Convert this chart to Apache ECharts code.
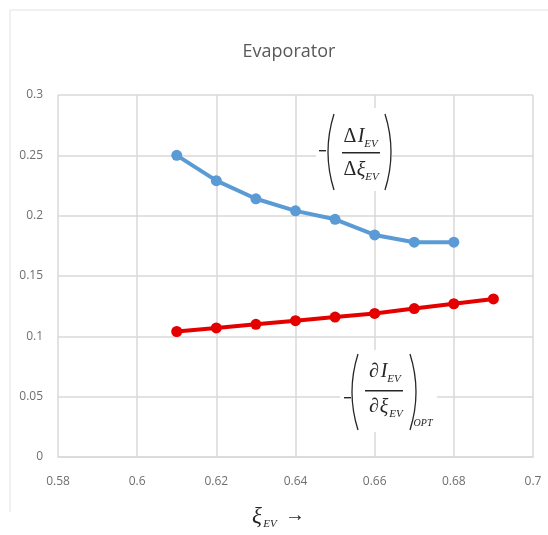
<!DOCTYPE html>
<html>
<head>
<meta charset="utf-8">
<script src="https://cdn.jsdelivr.net/npm/echarts@6/dist/echarts.min.js"></script>
<style>html,body{margin:0;padding:0;background:#fff;}#c{width:548px;height:535px;}</style>
</head>
<body>
<div id="c"></div>
<script>
const titleText = 'Evaporator';
const xTicks = [0.58, 0.6, 0.62, 0.64, 0.66, 0.68, 0.7];
const yTicks = [0, 0.05, 0.1, 0.15, 0.2, 0.25, 0.3];
const blueX = [0.61, 0.62, 0.63, 0.64, 0.65, 0.66, 0.67, 0.68];
const blueY = [0.250, 0.229, 0.214, 0.204, 0.197, 0.184, 0.178, 0.178];
const redX = [0.61, 0.62, 0.63, 0.64, 0.65, 0.66, 0.67, 0.68, 0.69];
const redY = [0.104, 0.107, 0.110, 0.113, 0.116, 0.119, 0.123, 0.127, 0.131];

const blueData = blueX.map((x, i) => [x, blueY[i]]);
const redData = redX.map((x, i) => [x, redY[i]]);

const serif = '"Liberation Serif", "DejaVu Serif", serif';
const gridColor = '#d9d9d9';
const ink = '#262626';

function paren(x, y1, y2, dir) {
  const my = (y1 + y2) / 2;
  const bulge = 6 * dir;
  return {
    type: 'bezierCurve', z: 101, silent: true,
    shape: { x1: x, y1: y1, x2: x, y2: y2, cpx1: x - bulge * 2, cpy1: my },
    style: { fill: null, stroke: ink, lineWidth: 1.3 }
  };
}
function txt(x, y, t, size, upright) {
  return {
    type: 'text', z: 101, silent: true, x: x, y: y,
    style: { text: t, font: (upright ? '' : 'italic ') + size + 'px ' + serif, fill: ink, align: 'center', verticalAlign: 'middle' }
  };
}
function bar(x, y, w) {
  return { type: 'rect', z: 101, silent: true, shape: { x: x, y: y, width: w, height: 1.4 }, style: { fill: ink } };
}

const graphics = [
  { type: 'line', shape: { x1: 10, y1: 10, x2: 548, y2: 10 }, style: { stroke: '#e3e3e3', lineWidth: 1 }, silent: true },
  { type: 'line', shape: { x1: 10, y1: 10, x2: 10, y2: 512 }, style: { stroke: '#e3e3e3', lineWidth: 1 }, silent: true },
  // top formula
  { type: 'rect', z: 100, silent: true, shape: { x: 316, y: 108, width: 76, height: 83 }, style: { fill: '#fff' } },
  bar(319, 150, 7),
  paren(334, 114, 190, 1),
  paren(385, 114, 190, -1),
  txt(350, 137, 'Δ', 20, true),
  txt(361, 137, 'I', 20),
  txt(371, 144, 'EV', 11),
  bar(342, 152, 38),
  txt(350, 170, 'Δ', 20, true),
  txt(361, 171, 'ξ', 20),
  txt(372, 177, 'EV', 11),
  // bottom formula
  { type: 'rect', z: 100, silent: true, shape: { x: 340, y: 350, width: 97, height: 82 }, style: { fill: '#fff' } },
  bar(344, 397, 7),
  paren(358, 354, 430, 1),
  paren(410, 354, 430, -1),
  txt(374, 372, '∂', 20, true),
  txt(384, 372, 'I', 20),
  txt(394, 379, 'EV', 11),
  bar(365, 390, 38),
  txt(374, 407, '∂', 20, true),
  txt(384, 408, 'ξ', 20),
  txt(396, 414, 'EV', 11),
  txt(423, 423, 'OPT', 10),
  // x axis title
  txt(257, 517, 'ξ', 23),
  txt(270, 524, 'EV', 11),
  { type: 'text', z: 101, silent: true, x: 295, y: 516, style: { text: '→', font: '20px ' + serif, fill: ink, align: 'center', verticalAlign: 'middle' } }
];

const chart = echarts.init(document.getElementById('c'), null, { renderer: 'canvas' });
chart.setOption({
  backgroundColor: '#fff',
  animation: false,
  title: {
    text: titleText, left: 284, top: 38, textAlign: 'center',
    textStyle: { fontFamily: '"Open Sans", sans-serif', fontSize: 18, fontWeight: 'normal', color: '#595959' }
  },
  grid: { left: 58, right: 15, top: 95, bottom: 78, containLabel: false },
  xAxis: {
    type: 'value', min: xTicks[0], max: xTicks[xTicks.length - 1], interval: 0.02,
    axisLine: { show: true, onZero: false, lineStyle: { color: gridColor, width: 1.5 } },
    axisTick: { show: false },
    axisLabel: { margin: 19, color: '#6f6f6f', fontFamily: '"Open Sans", sans-serif', fontSize: 12,
      formatter: v => { const t = xTicks.find(k => Math.abs(k - v) < 1e-6); return t === undefined ? '' : String(t); } },
    splitLine: { show: true, lineStyle: { color: gridColor, width: 1.5 } }
  },
  yAxis: {
    type: 'value', min: yTicks[0], max: yTicks[yTicks.length - 1], interval: 0.05,
    axisLine: { show: false },
    axisTick: { show: false },
    axisLabel: { margin: 15, color: '#6f6f6f', fontFamily: '"Open Sans", sans-serif', fontSize: 12,
      formatter: v => { const t = yTicks.find(k => Math.abs(k - v) < 1e-6); return t === undefined ? '' : String(t); } },
    splitLine: { show: true, lineStyle: { color: gridColor, width: 1.5 } }
  },
  series: [
    {
      type: 'line', data: blueData, symbol: 'circle', symbolSize: 11,
      lineStyle: { color: '#5b9bd5', width: 4 }, itemStyle: { color: '#5b9bd5' }, z: 3
    },
    {
      type: 'line', data: redData, symbol: 'circle', symbolSize: 11,
      lineStyle: { color: '#e50000', width: 4 }, itemStyle: { color: '#e50000' }, z: 3
    }
  ],
  graphic: graphics
});
</script>
</body>
</html>
